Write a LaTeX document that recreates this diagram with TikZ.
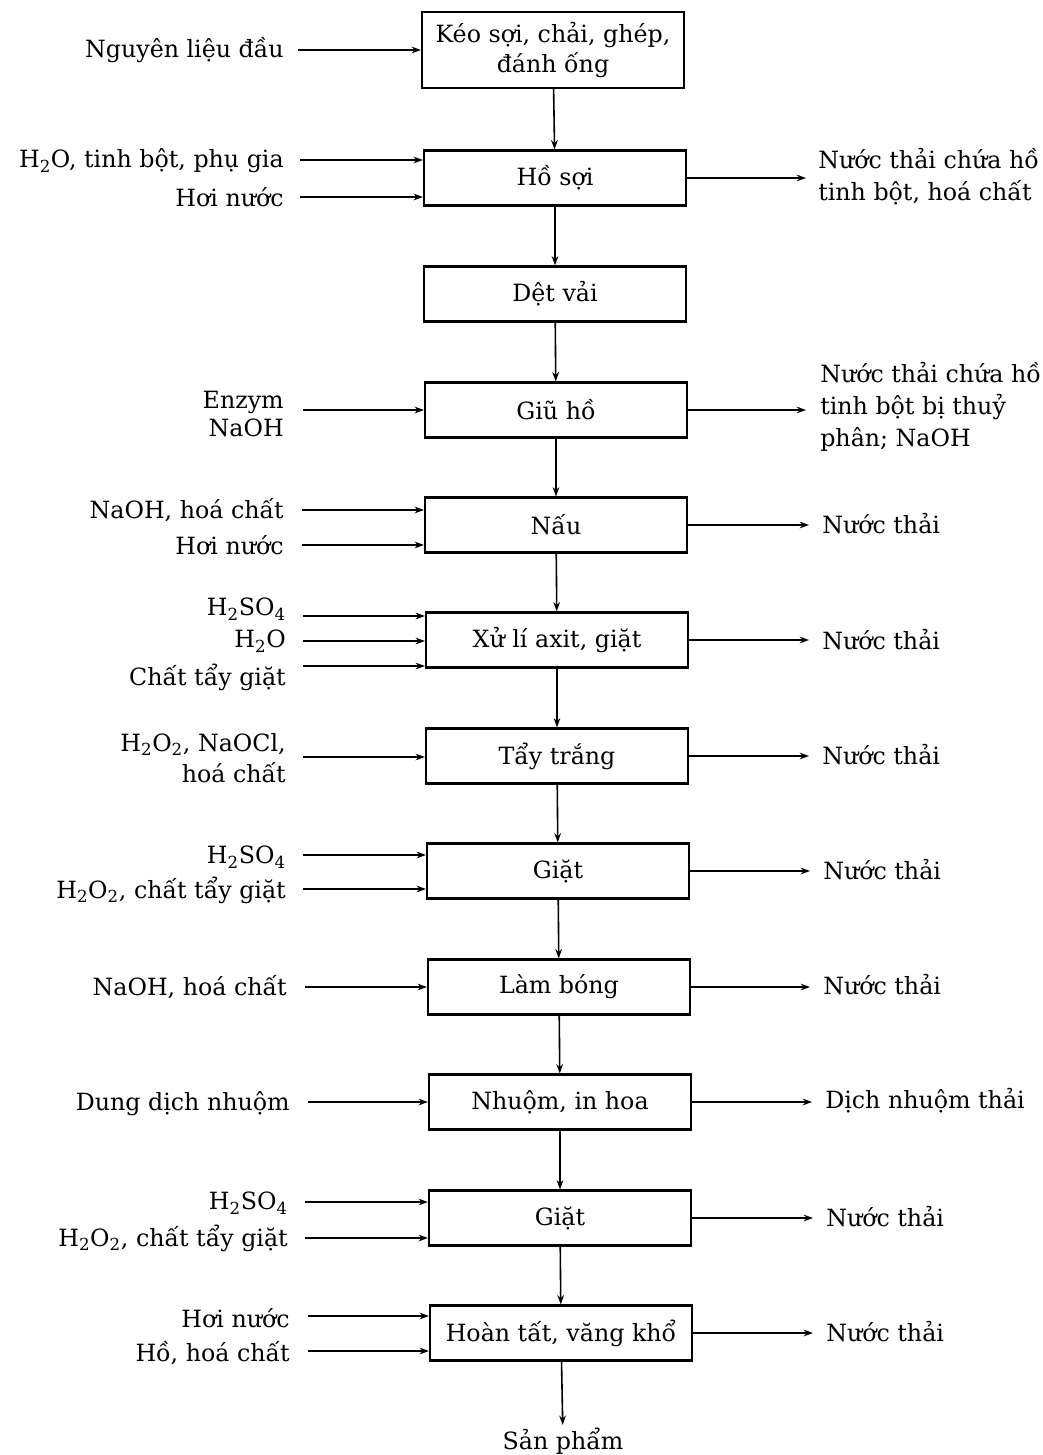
\documentclass[tikz,border=0pt]{standalone}
\usepackage{fontspec}
\setmainfont{DejaVu Serif}
\usetikzlibrary{arrows.meta,calc}
\begin{document}
\begin{tikzpicture}[x=0.75pt,y=-0.75pt,
  font=\fontsize{17.8}{23}\selectfont,
  box/.style={draw, line width=1.6pt, minimum width=196.5pt, minimum height=41.25pt, inner sep=2pt, align=center},
  arr/.style={-{Stealth[length=7pt,width=5pt]}, line width=1.2pt},
  lab/.style={inner sep=0pt, anchor=east, align=right},
  outlab/.style={inner sep=0pt, anchor=west, align=left}]
\useasboundingbox[fill=white] (0,0) rectangle (1042,1455);

% process boxes
\node[box, minimum height=57pt, font=\fontsize{17.8}{22.5}\selectfont] (b1) at (553,50) {Kéo sợi, chải, ghép,\\đánh ống};
\node[box] (b2) at (555,178) {Hồ sợi};
\node[box] (b3) at (555,294) {Dệt vải};
\node[box] (b4) at (556,410) {Giũ hồ};
\node[box] (b5) at (556,525) {Nấu};
\node[box] (b6) at (557,640) {Xử lí axit, giặt};
\node[box] (b7) at (557,756) {Tẩy trắng};
\node[box] (b8) at (558,871) {Giặt};
\node[box] (b9) at (559,987) {Làm bóng};
\node[box] (b10) at (560,1102) {Nhuộm, in hoa};
\node[box] (b11) at (560,1218) {Giặt};
\node[box] (b12) at (561,1333) {Hoàn tất, văng khổ};
\node[inner sep=2pt] (sp) at (563,1441) {Sản phẩm};

% main flow
\draw[arr] (b1) -- (b2);
\draw[arr] (b2) -- (b3);
\draw[arr] (b3) -- (b4);
\draw[arr] (b4) -- (b5);
\draw[arr] (b5) -- (b6);
\draw[arr] (b6) -- (b7);
\draw[arr] (b7) -- (b8);
\draw[arr] (b8) -- (b9);
\draw[arr] (b9) -- (b10);
\draw[arr] (b10) -- (b11);
\draw[arr] (b11) -- (b12);
\draw[arr] (b12) -- (sp);

% left inputs
\node[lab] (l1) at (284,50) {Nguyên liệu đầu};
\node[lab] (l2a) at (284,161) {H\textsubscript{2}O, tinh bột, phụ gia};
\node[lab] (l2b) at (284,197) {Hơi nước};
\node[lab, font=\fontsize{17.8}{21}\selectfont] (l4) at (284,414) {Enzym\\NaOH};
\node[lab] (l5a) at (284,510) {NaOH, hoá chất};
\node[lab] (l5b) at (284,545) {Hơi nước};
\node[lab] (l6a) at (286,609) {H\textsubscript{2}SO\textsubscript{4}};
\node[lab] (l6b) at (286,641) {H\textsubscript{2}O};
\node[lab] (l6c) at (286,677) {Chất tẩy giặt};
\node[lab, font=\fontsize{17.8}{23.5}\selectfont] (l7) at (286,758) {H\textsubscript{2}O\textsubscript{2}, NaOCl,\\hoá chất};
\node[lab] (l8a) at (286,857) {H\textsubscript{2}SO\textsubscript{4}};
\node[lab] (l8b) at (286,890) {H\textsubscript{2}O\textsubscript{2}, chất tẩy giặt};
\node[lab] (l9) at (287,987) {NaOH, hoá chất};
\node[lab] (l10) at (290,1104) {Dung dịch nhuộm};
\node[lab] (l11a) at (288,1203) {H\textsubscript{2}SO\textsubscript{4}};
\node[lab] (l11b) at (288,1238) {H\textsubscript{2}O\textsubscript{2}, chất tẩy giặt};
\node[lab] (l12a) at (290,1318) {Hơi nước};
\node[lab] (l12b) at (290,1353) {Hồ, hoá chất};

\draw[arr] ($(l1.east)+(14,0)$) -- (l1.east -| b1.west);
\draw[arr] ($(l2a.east)+(16,-1)$) -- ($(l2a.east -| b2.west)+(0,-1)$);
\draw[arr] ($(l2b.east)+(16,0)$) -- (l2b.east -| b2.west);
\draw[arr] ($(l4.east)+(19,-4)$) -- ($(l4.east -| b4.west)+(0,-4)$);
\draw[arr] ($(l5a.east)+(18,0)$) -- (l5a.east -| b5.west);
\draw[arr] ($(l5b.east)+(18,0)$) -- (l5b.east -| b5.west);
\draw[arr] ($(l6a.east)+(17,7)$) -- ($(l6a.east -| b6.west)+(0,7)$);
\draw[arr] ($(l6b.east)+(17,0)$) -- (l6b.east -| b6.west);
\draw[arr] ($(l6c.east)+(17,-11)$) -- ($(l6c.east -| b6.west)+(0,-11)$);
\draw[arr] ($(l7.east)+(17,-1)$) -- ($(l7.east -| b7.west)+(0,-1)$);
\draw[arr] ($(l8a.east)+(17,-2)$) -- ($(l8a.east -| b8.west)+(0,-2)$);
\draw[arr] ($(l8b.east)+(17,-1)$) -- ($(l8b.east -| b8.west)+(0,-1)$);
\draw[arr] ($(l9.east)+(18,0)$) -- (l9.east -| b9.west);
\draw[arr] ($(l10.east)+(18,-2)$) -- ($(l10.east -| b10.west)+(0,-2)$);
\draw[arr] ($(l11a.east)+(17,-1)$) -- ($(l11a.east -| b11.west)+(0,-1)$);
\draw[arr] ($(l11b.east)+(17,0)$) -- (l11b.east -| b11.west);
\draw[arr] ($(l12a.east)+(18,-2)$) -- ($(l12a.east -| b12.west)+(0,-2)$);
\draw[arr] ($(l12b.east)+(18,-2)$) -- ($(l12b.east -| b12.west)+(0,-2)$);

% right outputs
\node[outlab, font=\fontsize{17.8}{24}\selectfont] (r2) at (818,177) {Nước thải chứa hồ\\tinh bột, hoá chất};
\node[outlab, font=\fontsize{17.8}{24}\selectfont] (r4) at (820,407) {Nước thải chứa hồ\\tinh bột bị thuỷ\\phân; NaOH};
\node[outlab] (r5) at (822,524) {Nước thải};
\node[outlab] (r6) at (822,640) {Nước thải};
\node[outlab] (r7) at (822,755) {Nước thải};
\node[outlab] (r8) at (823,870) {Nước thải};
\node[outlab] (r9) at (823,985) {Nước thải};
\node[outlab] (r10) at (825,1101) {Dịch nhuộm thải};
\node[outlab] (r11) at (826,1217) {Nước thải};
\node[outlab] (r12) at (826,1332) {Nước thải};

\draw[arr] (b2.east) -- ($(b2.east -| r2.west)+(-12,0)$);
\draw[arr] (b4.east) -- ($(b4.east -| r4.west)+(-14,0)$);
\draw[arr] (b5.east) -- ($(b5.east -| r5.west)+(-13,0)$);
\draw[arr] (b6.east) -- ($(b6.east -| r6.west)+(-13,0)$);
\draw[arr] (b7.east) -- ($(b7.east -| r7.west)+(-13,0)$);
\draw[arr] (b8.east) -- ($(b8.east -| r8.west)+(-13,0)$);
\draw[arr] (b9.east) -- ($(b9.east -| r9.west)+(-13,0)$);
\draw[arr] (b10.east) -- ($(b10.east -| r10.west)+(-13,0)$);
\draw[arr] (b11.east) -- ($(b11.east -| r11.west)+(-13,0)$);
\draw[arr] (b12.east) -- ($(b12.east -| r12.west)+(-13,0)$);
\end{tikzpicture}
\end{document}
